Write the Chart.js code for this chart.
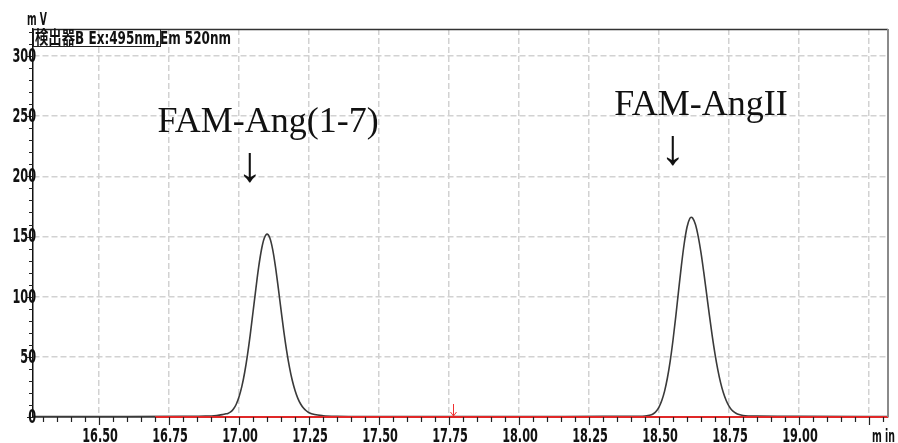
<!DOCTYPE html>
<html>
<head>
<meta charset="utf-8">
<script src="https://cdn.jsdelivr.net/npm/chart.js@4.4.0/dist/chart.umd.min.js"></script>
<style>
    html, body { margin: 0; padding: 0; background: #fff; }
    #wrap { width: 898px; height: 443px; }
</style>
</head>
<body>
<div id="wrap"><canvas id="chromChart" width="898" height="443"></canvas></div>
<script>
// ── Data ─────────────────────────────────────
const traceTime = [
    16.264, 16.40, 16.60, 16.80, 16.88, 16.92, 16.94, 16.95,
    16.96, 16.97, 16.98, 16.99, 17.00, 17.01, 17.02, 17.03, 17.04, 17.05, 17.06, 17.07, 17.08, 17.09,
    17.10,
    17.11, 17.12, 17.13, 17.14, 17.15, 17.16, 17.17, 17.18, 17.19, 17.20, 17.21, 17.22, 17.23, 17.24,
    17.25, 17.27, 17.30, 17.35, 17.45, 17.80, 18.10, 18.30, 18.33, 18.36, 18.40, 18.45,
    18.47, 18.48, 18.49, 18.50, 18.51, 18.52, 18.53, 18.54, 18.55, 18.56, 18.57, 18.58, 18.59, 18.60, 18.61,
    18.615,
    18.62, 18.63, 18.64, 18.65, 18.66, 18.67, 18.68, 18.69, 18.70, 18.71, 18.72, 18.73, 18.74, 18.75,
    18.76, 18.77, 18.78, 18.80, 18.85, 18.95, 19.00, 19.318
];
const traceSignal = [
    0.3, 0.3, 0.3, 0.5, 0.7, 1.3, 2.0, 2.5,
    3.0, 4.2, 6.6, 10.6, 16.8, 25.4, 37.0, 51.5, 68.5, 87.5, 106.5, 124.5, 139.0, 148.5,
    152.0,
    148.7, 139.3, 125.0, 107.5, 89.0, 71.0, 55.0, 41.5, 30.5, 22.0, 15.5, 10.8, 7.5, 5.2,
    3.6, 2.0, 1.1, 0.6, 0.4, 0.4, 0.4, 0.5, 0.6, 0.5, 0.5, 0.8,
    1.6, 2.7, 4.8, 8.3, 13.7, 21.5, 32.4, 46.5, 63.8, 83.7, 105.0, 125.8, 144.0, 157.7, 165.0,
    166.0,
    165.4, 160.2, 150.2, 136.6, 120.2, 102.5, 84.6, 67.7, 52.5, 39.4, 28.6, 20.1, 13.7, 9.1,
    5.8, 3.8, 2.5, 1.3, 0.7, 0.6, 0.5, 0.4
];
const baselineTime = [16.70, 19.318];
const baselineSignal = [0, 0];
const markerTime = 17.765;

const xRange = [16.264, 19.318];
const yRange = [0, 322.5];
const xMajorStep = 0.25;
const yMajorStep = 50;
const xLabelMax = 19.0;

const peakLabels = [
    { text: 'FAM-Ang(1-7)', time: 17.104, level: 237, arrowTime: 17.039, arrowLevel: 207 },
    { text: 'FAM-AngII', time: 18.65, level: 251, arrowTime: 18.55, arrowLevel: 221 },
];
const detectorText = '検出器B Ex:495nm,Em 520nm';
const yUnit = 'm V';
const xUnit = 'm in';

// ── Helpers ──────────────────────────────────
const LABEL_FONT = 'bold 19px "DejaVu Sans Condensed", "DejaVu Sans", sans-serif';
const isMultiple = (v, step) => Math.abs(v / step - Math.round(v / step)) < 1e-6;
function toPoints(xs, ys) { return xs.map((x, i) => ({ x, y: ys[i] })); }
function narrowText(ctx, text, x, y, squeeze) {
    ctx.fillText(text, x, y, ctx.measureText(text).width * squeeze);
}

const xTicks = [];
for (let i = 0; i <= 60; i++) xTicks.push((1630 + 5 * i) / 100);
const yTicks = [];
for (let v = 0; v <= 320; v += 10) yTicks.push(v);
const xLabelTicks = xTicks.filter(v => isMultiple(v, xMajorStep) && v <= xLabelMax + 1e-6);
const yLabelTicks = yTicks.filter(v => isMultiple(v, yMajorStep));

// ── Decorations: ticks, labels, frame, texts ─
const decor = {
    id: 'decor',
    afterDraw(chart) {
        const { ctx, chartArea: a, scales: { x, y } } = chart;
        ctx.save();

        // tick marks
        ctx.strokeStyle = '#222';
        ctx.lineWidth = 1.2;
        ctx.beginPath();
        xTicks.forEach(v => {
            const px = Math.round(x.getPixelForValue(v)) + 0.5;
            const len = isMultiple(v, xMajorStep) ? 8 : 5;
            ctx.moveTo(px, a.bottom);
            ctx.lineTo(px, a.bottom + len);
        });
        yTicks.forEach(v => {
            const py = Math.round(y.getPixelForValue(v)) + 0.5;
            const len = isMultiple(v, yMajorStep) ? 6 : 4;
            ctx.moveTo(a.left, py);
            ctx.lineTo(a.left - len, py);
        });
        ctx.stroke();

        // tick labels (condensed, as in the instrument print-out)
        ctx.fillStyle = '#111';
        ctx.font = LABEL_FONT;
        ctx.textAlign = 'center';
        ctx.textBaseline = 'alphabetic';
        xLabelTicks.forEach(v => narrowText(ctx, v.toFixed(2), x.getPixelForValue(v) + 1, 442, 0.66));
        ctx.textAlign = 'right';
        ctx.textBaseline = 'middle';
        yLabelTicks.forEach(v => narrowText(ctx, String(v), a.left + 3, y.getPixelForValue(v) + 1, 0.66));

        // frame top / right
        ctx.strokeStyle = '#333';
        ctx.lineWidth = 1.5;
        ctx.beginPath();
        ctx.moveTo(a.left, a.top + 0.5);
        ctx.lineTo(a.right, a.top + 0.5);
        ctx.stroke();
        ctx.strokeStyle = '#8a8a8a';
        ctx.lineWidth = 2;
        ctx.beginPath();
        ctx.moveTo(a.right, a.top);
        ctx.lineTo(a.right, a.bottom);
        ctx.stroke();

        // red marker arrow on baseline
        const mx = Math.round(x.getPixelForValue(markerTime)) + 0.5;
        ctx.strokeStyle = '#f03030';
        ctx.lineWidth = 1;
        ctx.beginPath();
        ctx.moveTo(mx, a.bottom - 13);
        ctx.lineTo(mx, a.bottom - 1);
        ctx.moveTo(mx - 3, a.bottom - 5);
        ctx.lineTo(mx, a.bottom - 1);
        ctx.lineTo(mx + 3, a.bottom - 5);
        ctx.stroke();

        // detector legend
        ctx.strokeStyle = '#222';
        ctx.lineWidth = 1;
        ctx.strokeRect(a.left + 0.5, a.top + 0.5, 127, 17);
        ctx.fillStyle = '#111';
        ctx.font = 'bold 18px "DejaVu Sans Condensed", "DejaVu Sans", "Noto Sans CJK JP", sans-serif';
        ctx.textAlign = 'left';
        ctx.textBaseline = 'alphabetic';
        ctx.fillText(detectorText, a.left + 2, a.top + 15, 196);

        // axis unit labels
        ctx.font = 'bold 17px "DejaVu Sans Condensed", "DejaVu Sans", sans-serif';
        ctx.fillText(yUnit, 27, 25, 20);
        ctx.fillText(xUnit, 872, 442, 23);

        // peak annotations
        ctx.textAlign = 'center';
        peakLabels.forEach(p => {
            ctx.font = '36px "Liberation Serif", "Times New Roman", serif';
            ctx.textBaseline = 'alphabetic';
            ctx.fillText(p.text, x.getPixelForValue(p.time), y.getPixelForValue(p.level));
            ctx.font = '50px "Liberation Serif", "Times New Roman", serif';
            ctx.textBaseline = 'middle';
            ctx.fillText('↓', x.getPixelForValue(p.arrowTime), y.getPixelForValue(p.arrowLevel));
        });

        ctx.restore();
    }
};

// ── Chart ────────────────────────────────────
new Chart(document.getElementById('chromChart').getContext('2d'), {
    type: 'line',
    data: {
        datasets: [
            {
                label: 'baseline',
                data: toPoints(baselineTime, baselineSignal),
                borderColor: '#e02828',
                borderWidth: 2,
                pointRadius: 0,
                clip: 4,
                order: 0,
            },
            {
                label: 'signal',
                data: toPoints(traceTime, traceSignal),
                borderColor: '#3a3a3a',
                borderWidth: 1.6,
                pointRadius: 0,
                cubicInterpolationMode: 'monotone',
                clip: 4,
                order: 1,
            },
        ],
    },
    options: {
        responsive: false,
        animation: false,
        layout: { padding: { top: 29, right: 10, left: 0, bottom: 0 } },
        plugins: { legend: { display: false }, tooltip: { enabled: false } },
        scales: {
            x: {
                type: 'linear',
                min: xRange[0],
                max: xRange[1],
                afterBuildTicks: s => { s.ticks = xTicks.map(v => ({ value: v })); },
                afterFit: s => { s.height = 26; },
                ticks: { display: false },
                grid: {
                    drawTicks: false,
                    lineWidth: 1.5,
                    color: c => (c.tick && isMultiple(c.tick.value, xMajorStep) ? '#d2d2d2' : 'rgba(0,0,0,0)'),
                },
                border: { color: '#111', width: 1.5, dash: [6, 3] },
            },
            y: {
                min: yRange[0],
                max: yRange[1],
                afterBuildTicks: s => { s.ticks = yTicks.map(v => ({ value: v })); },
                afterFit: s => { s.width = 33; },
                ticks: { display: false },
                grid: {
                    drawTicks: false,
                    lineWidth: 1.5,
                    color: c => (c.tick && c.tick.value > 0 && isMultiple(c.tick.value, yMajorStep) ? '#d2d2d2' : 'rgba(0,0,0,0)'),
                },
                border: { color: '#111', width: 1.5, dash: [6, 3] },
            },
        },
    },
    plugins: [decor],
});
</script>
</body>
</html>
